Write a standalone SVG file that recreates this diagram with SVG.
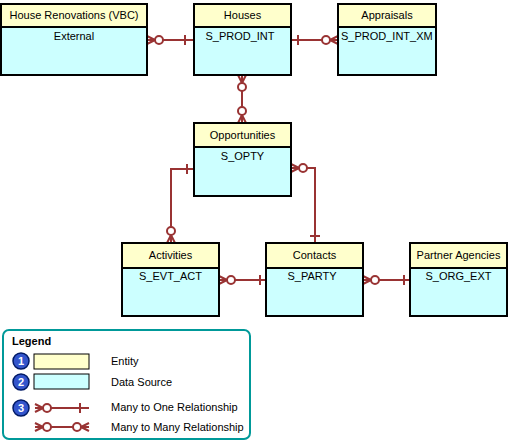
<svg xmlns="http://www.w3.org/2000/svg" xmlns:xlink="http://www.w3.org/1999/xlink" width="509" height="445" viewBox="0 0 509 445">
<style>
.hd{fill:#FFFFCC;stroke:#000;stroke-width:2}
.bd{fill:#CCFFFF;stroke:#000;stroke-width:2}
.t{font-family:"Liberation Sans",Arial,sans-serif;font-size:11px;fill:#000;text-anchor:middle}
.ts{font-family:"Liberation Sans",Arial,sans-serif;font-size:11px;fill:#000}
.c{fill:none;stroke:#993333;stroke-width:2}
.num{font-family:"Liberation Sans",Arial,sans-serif;font-size:11px;font-weight:bold;fill:#fff;text-anchor:middle}
</style>
<defs>
<g id="many">
<path d="M0,-4 L8,0 M0,0 L8,0 M0,4 L8,0" fill="none" stroke="#993333" stroke-width="2"/>
<circle cx="12" cy="0" r="4" fill="#fff" stroke="#993333" stroke-width="2"/>
</g>
</defs>
<g id="connectors">
<path class="c" d="M147,40 H194 M185,35 V45"/>
<use xlink:href="#many" transform="translate(147,40)"/>
<path class="c" d="M291,40 H338 M298,35 V45"/>
<use xlink:href="#many" transform="translate(338,40) rotate(180)"/>
<path class="c" d="M242,75 V123"/>
<use xlink:href="#many" transform="translate(242,75) rotate(90)"/>
<use xlink:href="#many" transform="translate(242,123) rotate(-90)"/>
<path class="c" d="M194,169 H171 V243 M187,164 V174"/>
<use xlink:href="#many" transform="translate(171,243) rotate(-90)"/>
<path class="c" d="M291,168 H315 V243 M310,236 H320"/>
<use xlink:href="#many" transform="translate(291,168)"/>
<path class="c" d="M219,280 H266 M260,275 V285"/>
<use xlink:href="#many" transform="translate(219,280)"/>
<path class="c" d="M363,280 H410 M404,275 V285"/>
<use xlink:href="#many" transform="translate(363,280)"/>
</g>
<g id="house-renovations">
<rect class="bd" x="1" y="27" width="146" height="48"/>
<rect class="hd" x="1" y="4" width="146" height="23"/>
<text class="t" x="74" y="19">House Renovations (VBC)</text>
<text class="t" x="74" y="40">External</text>
</g>
<g id="houses">
<rect class="bd" x="194" y="27" width="97" height="48"/>
<rect class="hd" x="194" y="4" width="97" height="23"/>
<text class="t" x="242.5" y="19">Houses</text>
<text class="t" x="240" y="40">S_PROD_INT</text>
</g>
<g id="appraisals">
<rect class="bd" x="338" y="27" width="98" height="48"/>
<rect class="hd" x="338" y="4" width="98" height="23"/>
<text class="t" x="387" y="19">Appraisals</text>
<text class="ts" x="341" y="40">S_PROD_INT_XM</text>
</g>
<g id="opportunities">
<rect class="bd" x="194" y="147" width="97" height="49"/>
<rect class="hd" x="194" y="123" width="97" height="24"/>
<text class="t" x="242.5" y="139">Opportunities</text>
<text class="t" x="242.5" y="160">S_OPTY</text>
</g>
<g id="activities">
<rect class="bd" x="122" y="268" width="97" height="48"/>
<rect class="hd" x="122" y="243" width="97" height="25"/>
<text class="t" x="170.5" y="259">Activities</text>
<text class="t" x="170.5" y="280">S_EVT_ACT</text>
</g>
<g id="contacts">
<rect class="bd" x="266" y="268" width="97" height="48"/>
<rect class="hd" x="266" y="243" width="97" height="25"/>
<text class="t" x="314.5" y="259">Contacts</text>
<text class="t" x="312" y="280">S_PARTY</text>
</g>
<g id="partner-agencies">
<rect class="bd" x="410" y="268" width="97" height="48"/>
<rect class="hd" x="410" y="243" width="97" height="25"/>
<text class="t" x="458.5" y="259">Partner Agencies</text>
<text class="t" x="458.5" y="280">S_ORG_EXT</text>
</g>
<g id="legend">
<rect x="3" y="330" width="247" height="109" rx="6" fill="#fff" stroke="#009999" stroke-width="2"/>
<text class="ts" x="12" y="345" font-weight="bold">Legend</text>
<circle cx="21" cy="361" r="8" fill="#3355CC" stroke="#001a66" stroke-width="1.5"/>
<text class="num" x="21" y="365">1</text>
<circle cx="21" cy="382" r="8" fill="#3355CC" stroke="#001a66" stroke-width="1.5"/>
<text class="num" x="21" y="386">2</text>
<circle cx="21" cy="408" r="8" fill="#3355CC" stroke="#001a66" stroke-width="1.5"/>
<text class="num" x="21" y="412">3</text>
<rect x="34" y="354" width="55" height="15" fill="#FFFFCC" stroke="#000" stroke-width="1"/>
<rect x="34" y="374" width="55" height="15" fill="#CCFFFF" stroke="#000" stroke-width="1"/>
<path class="c" d="M35,408 H89 M80,403 V413"/>
<use xlink:href="#many" transform="translate(35,408)"/>
<path class="c" d="M35,427 H89"/>
<use xlink:href="#many" transform="translate(35,427)"/>
<use xlink:href="#many" transform="translate(89,427) rotate(180)"/>
<text class="ts" x="111" y="365">Entity</text>
<text class="ts" x="111" y="386">Data Source</text>
<text class="ts" x="111" y="411">Many to One Relationship</text>
<text class="ts" x="111" y="431">Many to Many Relationship</text>
</g>
</svg>
